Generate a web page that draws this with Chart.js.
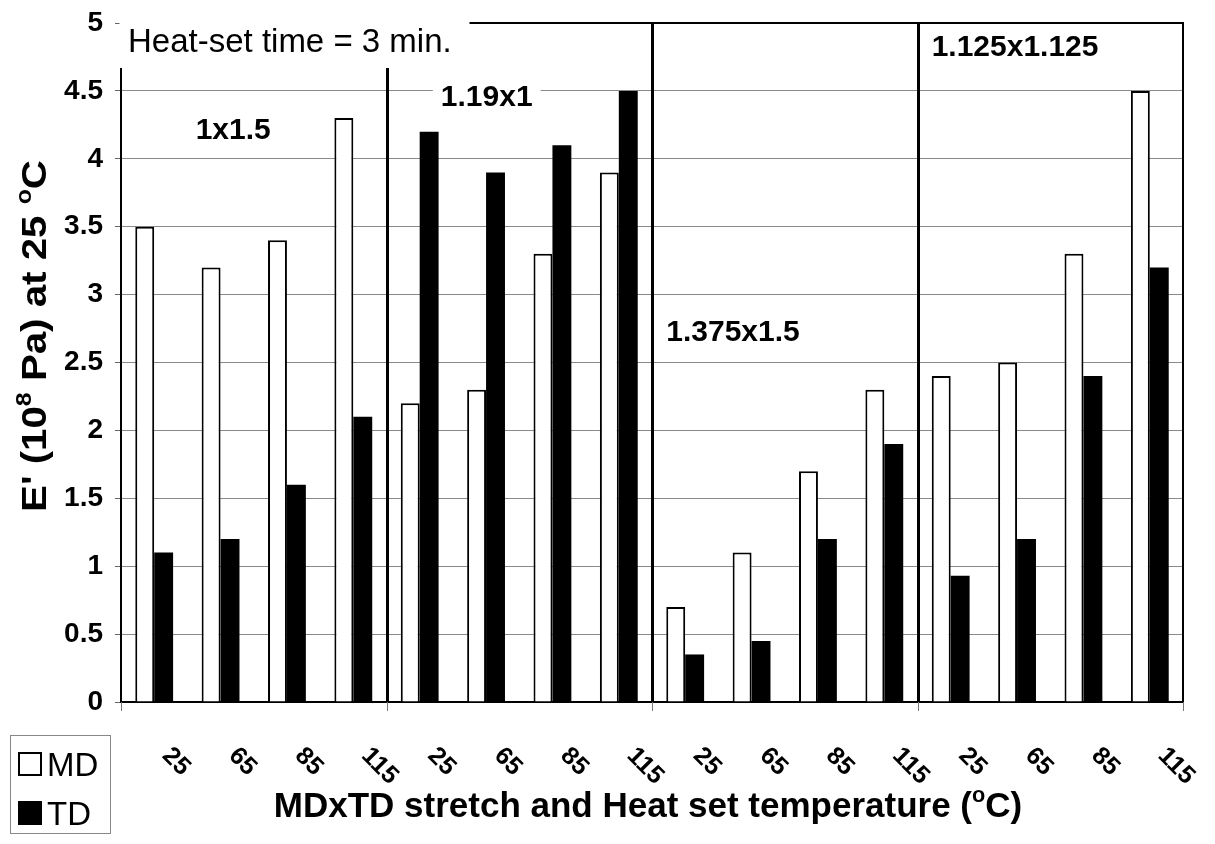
<!DOCTYPE html>
<html>
<head>
<meta charset="utf-8">
<script src="https://cdn.jsdelivr.net/npm/chart.js@4"></script>
<style>
  body { margin: 0; background: #fff; }
  #wrap { width: 1215px; height: 844px; }
</style>
</head>
<body>
<div id="wrap"><canvas id="myChart"></canvas></div>
<script>
// heat-set temperatures, repeated for each MDxTD stretch group
const categories = ['25', '65', '85', '115', '25', '65', '85', '115', '25', '65', '85', '115', '25', '65', '85', '115'];
const groupNames = ['1x1.5', '1.19x1', '1.375x1.5', '1.125x1.125'];
const mdValues = [3.5, 3.2, 3.4, 4.3, 2.2, 2.3, 3.3, 3.9, 0.7, 1.1, 1.7, 2.3, 2.4, 2.5, 3.3, 4.5];
const tdValues = [1.1, 1.2, 1.6, 2.1, 4.2, 3.9, 4.1, 4.5, 0.35, 0.45, 1.2, 1.9, 0.93, 1.2, 2.4, 3.2];
const yTickLabels = ['0', '0.5', '1', '1.5', '2', '2.5', '3', '3.5', '4', '4.5', '5'];

const FONT = "'Liberation Sans', Arial, sans-serif";
Chart.defaults.font.family = FONT;
Chart.defaults.color = '#000';

// draw text with superscript parts, centred on x
function richText(ctx, parts, x, y, size) {
    const widths = parts.map(p => {
        ctx.font = 'bold ' + (p.sup ? size * 0.62 : size) + 'px ' + FONT;
        return ctx.measureText(p.t).width;
    });
    let cx = x - widths.reduce((a, b) => a + b, 0) / 2;
    parts.forEach((p, i) => {
        ctx.font = 'bold ' + (p.sup ? size * 0.62 : size) + 'px ' + FONT;
        ctx.fillText(p.t, cx, p.sup ? y - size * 0.42 : y);
        cx += widths[i];
    });
}

function line(ctx, x1, y1, x2, y2) {
    ctx.beginPath();
    ctx.moveTo(x1, y1);
    ctx.lineTo(x2, y2);
    ctx.stroke();
}

const decor = {
    id: 'decor',
    afterDatasetsDraw(chart) {
        const { ctx, chartArea: a, scales: { x, y } } = chart;
        ctx.save();
        ctx.strokeStyle = '#000';

        // group separators
        ctx.lineWidth = 3;
        [3.5, 7.5, 11.5].forEach(v => {
            const px = Math.round(x.getPixelForValue(v)) + 0.5;
            line(ctx, px, a.top, px, a.bottom);
        });
        // right and top frame
        ctx.lineWidth = 2;
        line(ctx, a.right, a.top - 1, a.right, a.bottom);
        line(ctx, a.left, a.top, a.right + 1, a.top);

        // tick marks at group edges under the axis
        ctx.strokeStyle = '#777';
        ctx.lineWidth = 1;
        [-0.5, 3.5, 7.5, 11.5, 15.5].forEach(v => {
            const px = Math.round(x.getPixelForValue(v)) + 0.5;
            line(ctx, px, a.bottom, px, a.bottom + 9);
        });

        // white title box over top-left corner
        ctx.fillStyle = '#fff';
        ctx.fillRect(a.left - 1.5, 0, 350, 68);
        ctx.fillStyle = '#000';
        ctx.font = '33px ' + FONT;
        ctx.textBaseline = 'alphabetic';
        ctx.textAlign = 'left';
        ctx.fillText('Heat-set time = 3 min.', 128, 52);

        // group names
        const spots = [[1.19, 4.21], [5.01, 4.45], [8.72, 2.72], [12.97, 4.82]];
        ctx.font = 'bold 30px ' + FONT;
        ctx.textAlign = 'center';
        ctx.textBaseline = 'middle';
        groupNames.forEach((g, i) => {
            const px = x.getPixelForValue(spots[i][0]);
            const py = y.getPixelForValue(spots[i][1]);
            const w = ctx.measureText(g).width;
            ctx.fillStyle = '#fff';
            ctx.fillRect(px - w / 2 - 8, py - 14, w + 16, 28);
            ctx.fillStyle = '#000';
            ctx.fillText(g, px, py);
        });
        ctx.restore();
    },
    afterDraw(chart) {
        const { ctx, chartArea: a, scales: { x } } = chart;
        ctx.save();
        ctx.fillStyle = '#000';

        // rotated category labels
        ctx.font = 'bold 25px ' + FONT;
        ctx.textAlign = 'left';
        ctx.textBaseline = 'middle';
        categories.forEach((c, i) => {
            const px = x.getPixelForValue(i);
            ctx.save();
            ctx.translate(px + 12, 752);
            ctx.rotate(Math.PI / 4);
            ctx.fillText(c, 0, 0);
            ctx.restore();
        });

        // x axis title
        ctx.textAlign = 'left';
        ctx.textBaseline = 'alphabetic';
        richText(ctx, [
            { t: 'MDxTD stretch and Heat set temperature (' },
            { t: 'o', sup: true },
            { t: 'C)' }
        ], 648, 817, 35);

        // y axis title
        ctx.save();
        ctx.translate(46, 336);
        ctx.rotate(-Math.PI / 2);
        ctx.scale(1.15, 1);
        richText(ctx, [
            { t: "E' (10" },
            { t: '8', sup: true },
            { t: ' Pa) at 25 ' },
            { t: 'o', sup: true },
            { t: 'C' }
        ], 0, 0, 35);
        ctx.restore();

        // legend box
        ctx.strokeStyle = '#888';
        ctx.lineWidth = 1;
        ctx.strokeRect(10.5, 735.5, 100, 98);
        ctx.strokeStyle = '#000';
        ctx.lineWidth = 2;
        ctx.strokeRect(19, 753, 22, 22);
        ctx.fillRect(18, 801, 24, 24);
        ctx.font = '33px ' + FONT;
        ctx.textAlign = 'left';
        ctx.fillText('MD', 47, 776);
        ctx.fillText('TD', 47, 825);
        ctx.restore();
    }
};

const ctx = document.getElementById('myChart').getContext('2d');
const chart = new Chart(ctx, {
    type: 'bar',
    data: {
        labels: categories,
        datasets: [{
                label: 'MD',
                backgroundColor: '#fff',
                borderColor: '#000',
                borderWidth: 2,
                data: mdValues
            },
            {
                label: 'TD',
                backgroundColor: '#000',
                borderColor: '#000',
                borderWidth: 0,
                data: tdValues
            }
        ]
    },
    options: {
        responsive: true,
        maintainAspectRatio: false,
        animation: false,
        datasets: {
            bar: { barPercentage: 1.0, categoryPercentage: 0.57 }
        },
        layout: { padding: { top: 23, right: 32, left: 0, bottom: 0 } },
        plugins: {
            legend: { display: false },
            tooltip: { enabled: false }
        },
        scales: {
            x: {
                type: 'category',
                grid: { display: false },
                ticks: { display: false },
                border: { display: true, color: '#000', width: 2 },
                afterFit(scale) { scale.height = 142; }
            },
            y: {
                type: 'linear',
                min: 0,
                max: 5,
                ticks: {
                    stepSize: 0.5,
                    padding: 12,
                    font: { size: 28, weight: 'bold' },
                    callback: (v, i) => yTickLabels[i]
                },
                grid: {
                    color: c => (c.tick && (c.tick.value === 0 || c.tick.value === 5)) ? 'rgba(0,0,0,0)' : '#8a8a8a',
                    tickColor: '#666',
                    tickLength: 6,
                    lineWidth: 1
                },
                border: { display: true, color: '#000', width: 2 },
                afterFit(scale) {
                    scale.width = 121;
                    scale.paddingTop = 0;
                    scale.paddingBottom = 0;
                }
            }
        }
    },
    plugins: [decor]
});
</script>
</body>
</html>
